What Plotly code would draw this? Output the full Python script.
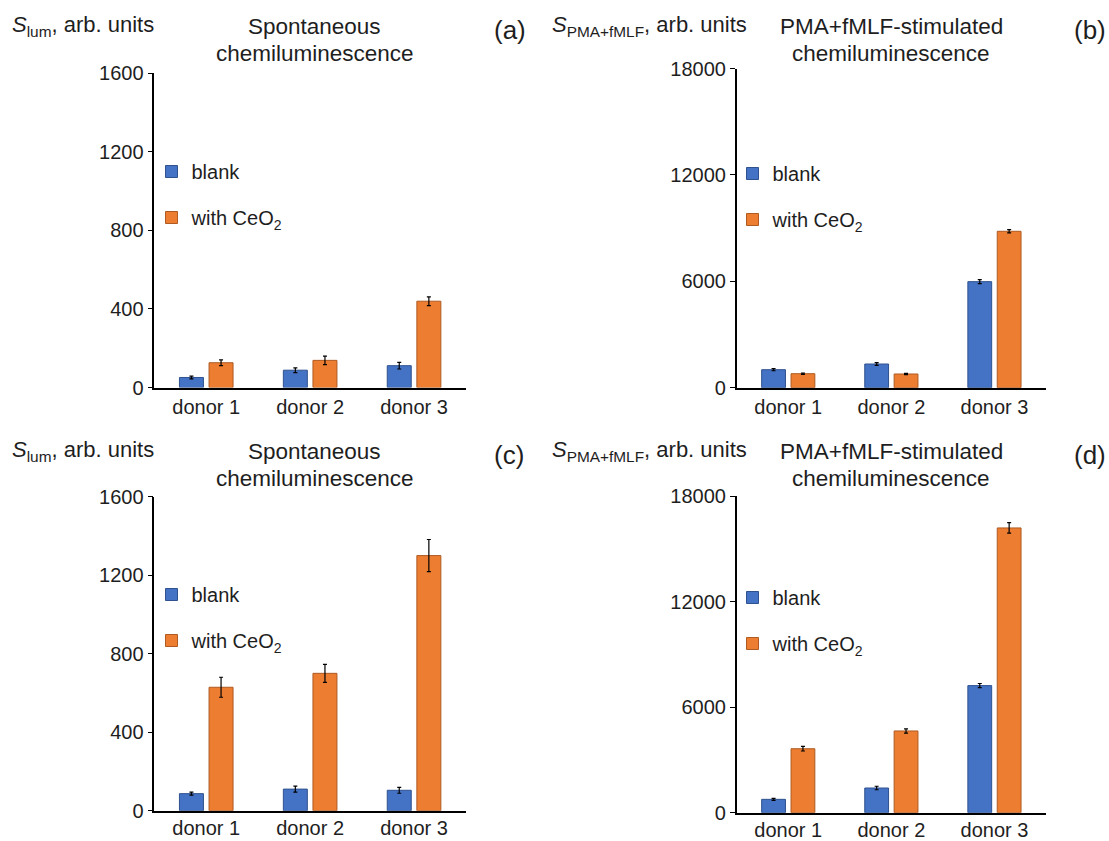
import plotly.graph_objects as go

categories = ["donor 1", "donor 2", "donor 3"]

a_blank = [51, 88, 111]
a_blank_err = [7, 12, 17]
a_ceo2 = [126, 138, 439]
a_ceo2_err = [15, 22, 22]

b_blank = [1015, 1336, 5980]
b_blank_err = [60, 80, 110]
b_ceo2 = [790, 773, 8820]
b_ceo2_err = [40, 40, 90]

c_blank = [87, 110, 104]
c_blank_err = [8, 15, 15]
c_ceo2 = [629, 700, 1300]
c_ceo2_err = [51, 46, 82]

d_blank = [760, 1405, 7230]
d_blank_err = [60, 100, 120]
d_ceo2 = [3640, 4650, 16200]
d_ceo2_err = [130, 120, 300]

series_names = ["blank", "with CeO<sub>2</sub>"]
panel_titles = ["Spontaneous", "chemiluminescence", "PMA+fMLF-stimulated", "chemiluminescence"]
panel_labels = ["(a)", "(b)", "(c)", "(d)"]
ylabels = ["<i>S</i><sub>lum</sub>, arb. units", "<i>S</i><sub>PMA+fMLF</sub>, arb. units"]
spont_ticks = [0, 400, 800, 1200, 1600]
stim_ticks = [0, 6000, 12000, 18000]

W, H = 1109, 841
FONT = "Liberation Sans, Arial, sans-serif"
TXT = "#1e1e1e"
BLUE, BLUE_LINE = "#4472C4", "#2F528F"
ORANGE, ORANGE_LINE = "#ED7D31", "#AE5A21"

def px_x(p):
    return p / W

def px_y(p):
    return 1 - p / H

# panel plot areas in pixels: (left, right, top, bottom)
areas = [
    (154.3, 466, 73, 387.5),
    (736.7, 1046, 68.5, 387.7),
    (154.3, 466, 496.7, 810.7),
    (736.7, 1046, 496.3, 812.7),
]
# legend anchor points (left edge, first-item centre) in pixels
legend_pos = [(151.5, 171), (732.5, 173), (151.5, 594), (732.5, 597)]

panels = [
    (a_blank, a_blank_err, a_ceo2, a_ceo2_err, spont_ticks),
    (b_blank, b_blank_err, b_ceo2, b_ceo2_err, stim_ticks),
    (c_blank, c_blank_err, c_ceo2, c_ceo2_err, spont_ticks),
    (d_blank, d_blank_err, d_ceo2, d_ceo2_err, stim_ticks),
]

fig = go.Figure()
layout = dict(
    width=W, height=H,
    margin=dict(l=0, r=0, t=0, b=0, autoexpand=False),
    paper_bgcolor="white", plot_bgcolor="white",
    font=dict(family=FONT, size=20, color=TXT),
    barmode="group", bargap=0.43, bargroupgap=0.19,
    annotations=[],
)

for i, (bl, ble, ce, cee, ticks) in enumerate(panels):
    n = i + 1
    xa = "x" if n == 1 else f"x{n}"
    ya = "y" if n == 1 else f"y{n}"
    lg = "legend" if n == 1 else f"legend{n}"
    fig.add_trace(go.Bar(
        x=categories, y=bl, name=series_names[0], xaxis=xa, yaxis=ya, legend=lg,
        legendgroup=f"b{n}", offsetgroup="blank",
        marker=dict(color=BLUE, line=dict(color=BLUE_LINE, width=1)),
        error_y=dict(type="data", array=ble, color="black", thickness=1.2, width=2),
    ))
    fig.add_trace(go.Bar(
        x=categories, y=ce, name=series_names[1], xaxis=xa, yaxis=ya, legend=lg,
        legendgroup=f"c{n}", offsetgroup="ceo2",
        marker=dict(color=ORANGE, line=dict(color=ORANGE_LINE, width=1)),
        error_y=dict(type="data", array=cee, color="black", thickness=1.2, width=2),
    ))
    l, r, t, b = areas[i]
    xkey = "xaxis" if n == 1 else f"xaxis{n}"
    ykey = "yaxis" if n == 1 else f"yaxis{n}"
    layout[xkey] = dict(
        domain=[px_x(l), px_x(r)], anchor=ya, showline=True, linecolor="black",
        linewidth=2, ticks="", showgrid=False, tickfont=dict(size=20, color=TXT),
        fixedrange=True, automargin=False,
        ticklabelstandoff=(-2 if i >= 2 else 0),
    )
    layout[ykey] = dict(
        domain=[px_y(b), px_y(t)], anchor=xa, range=[0, ticks[-1]],
        tickvals=ticks, ticktext=[str(v) for v in ticks],
        showline=True, linecolor="black", linewidth=1.5, ticks="outside",
        ticklen=5, tickcolor="black", showgrid=False, zeroline=False,
        tickfont=dict(size=20, color=TXT), fixedrange=True, automargin=False,
    )
    # legend
    lx, ly = legend_pos[i]
    layout[lg] = dict(
        x=px_x(lx), y=px_y(ly - 19), xanchor="left", yanchor="top",
        bgcolor="rgba(0,0,0,0)", borderwidth=0, tracegroupgap=17,
        traceorder="grouped", font=dict(size=20, color=TXT),
    )
    # titles
    top_off = 0 if i < 2 else 425
    t1, t2 = (panel_titles[0], panel_titles[1]) if i % 2 == 0 else (panel_titles[2], panel_titles[3])
    cx = 315 if i % 2 == 0 else 891
    layout["annotations"].append(dict(
        text=t1, x=px_x(cx), y=px_y(top_off + 26.5), xref="paper", yref="paper",
        showarrow=False, xanchor="center", yanchor="middle", font=dict(size=22.5, color=TXT)))
    layout["annotations"].append(dict(
        text=t2, x=px_x(cx), y=px_y(top_off + 53), xref="paper", yref="paper",
        showarrow=False, xanchor="center", yanchor="middle", font=dict(size=22.5, color=TXT)))
    # y label
    ylx = 10 if i % 2 == 0 else 550
    layout["annotations"].append(dict(
        text=ylabels[i % 2], x=px_x(ylx), y=px_y(top_off + 26), xref="paper", yref="paper",
        showarrow=False, xanchor="left", yanchor="middle", font=dict(size=22, color=TXT)))
    # panel label
    plx = 492 if i % 2 == 0 else 1072
    layout["annotations"].append(dict(
        text=panel_labels[i], x=px_x(plx), y=px_y(top_off + 30), xref="paper", yref="paper",
        showarrow=False, xanchor="left", yanchor="middle", font=dict(size=26, color=TXT)))

fig.update_layout(**layout)
fig.write_html("out.html", config={"displayModeBar": False},
               post_script="document.body.style.margin='0';")
